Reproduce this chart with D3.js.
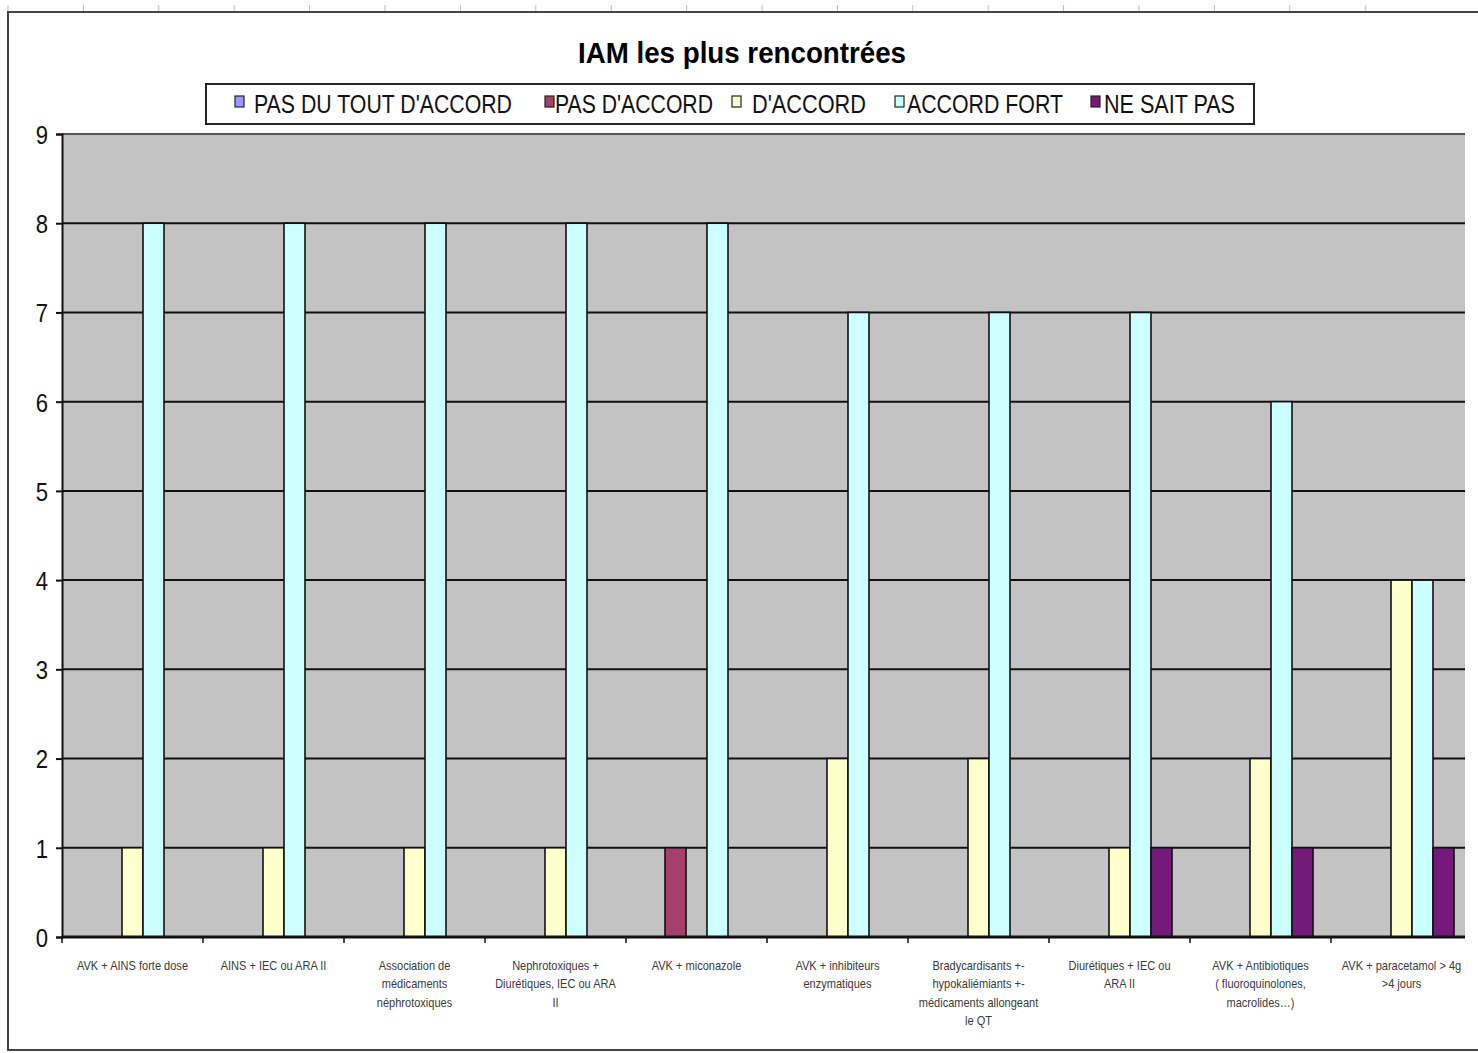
<!DOCTYPE html>
<html><head><meta charset="utf-8">
<script src="https://cdn.jsdelivr.net/npm/d3@7"></script>
<style>html,body{margin:0;padding:0;background:#fff;overflow:hidden}</style>
</head><body>
<svg id="c" width="1478" height="1053"></svg>
<script>
const title = "IAM les plus rencontrées";
const categories = [
  "AVK + AINS forte dose",
  "AINS + IEC ou ARA II",
  "Association de\nmédicaments\nnéphrotoxiques",
  "Nephrotoxiques +\nDiurétiques, IEC ou ARA\nII",
  "AVK + miconazole",
  "AVK + inhibiteurs\nenzymatiques",
  "Bradycardisants +-\nhypokaliémiants +-\nmédicaments allongeant\nle QT",
  "Diurétiques + IEC ou\nARA II",
  "AVK + Antibiotiques\n( fluoroquinolones,\nmacrolides…)",
  "AVK + paracetamol > 4g\n>4 jours"
];
const seriesNames = ["PAS DU TOUT D'ACCORD", "PAS D'ACCORD", "D'ACCORD", "ACCORD FORT", "NE SAIT PAS"];
const pasDuToutDaccord = [0,0,0,0,0,0,0,0,0,0];
const pasDaccord       = [0,0,0,0,1,0,0,0,0,0];
const daccord          = [1,1,1,1,0,2,2,1,2,4];
const accordFort       = [8,8,8,8,8,7,7,7,6,4];
const neSaitPas        = [0,0,0,0,0,0,0,1,1,1];
const yTicks = [0,1,2,3,4,5,6,7,8,9];
const seriesValues = [pasDuToutDaccord, pasDaccord, daccord, accordFort, neSaitPas];
const colors = ["#9999ff", "#a3406e", "#ffffcc", "#ccffff", "#731a7a"];

const svg = d3.select("#c");
const font = "'Liberation Sans', Arial, sans-serif";
const L = 62, T = 134, B = 937, R = 1472;

// outer frame
svg.append("rect").attr("x", 8).attr("y", 12).attr("width", 1490).attr("height", 1038)
  .attr("fill", "#fff").attr("stroke", "#444").attr("stroke-width", 2);
// faint marks above frame
svg.append("g").selectAll("line").data(d3.range(0, 19)).join("line")
  .attr("x1", d => 8 + d * 75.4).attr("x2", d => 8 + d * 75.4)
  .attr("y1", 5).attr("y2", 11).attr("stroke", "#bbb").attr("stroke-width", 1);

const x0 = d3.scaleBand().domain(d3.range(categories.length)).range([L, R]).paddingInner(0).paddingOuter(0);
const x1 = d3.scaleBand().domain(d3.range(seriesNames.length)).range([0, 105]);
const y = d3.scaleLinear().domain([0, 9]).range([B, T]);

const clip = svg.append("defs").append("clipPath").attr("id", "pc");
clip.append("rect").attr("x", 0).attr("y", 0).attr("width", 1465).attr("height", 1053);

const plot = svg.append("g").attr("clip-path", "url(#pc)");
plot.append("rect").attr("x", L).attr("y", T).attr("width", R - L).attr("height", B - T).attr("fill", "#c3c3c3");

// gridlines
plot.append("g").selectAll("line").data(yTicks.filter(d => d > 0)).join("line")
  .attr("x1", L).attr("x2", R).attr("y1", d => y(d)).attr("y2", d => y(d))
  .attr("stroke", d => d === 9 ? "#555" : "#111").attr("stroke-width", 2);

// bars
const groupW = 105;
const groups = plot.append("g").selectAll("g").data(categories).join("g")
  .attr("transform", (d, i) => `translate(${x0(i) + (x0.bandwidth() - groupW) / 2},0)`);
groups.selectAll("rect").data((d, i) => seriesValues.map((s, k) => ({k, v: s[i]})).filter(o => o.v > 0)).join("rect")
  .attr("x", o => x1(o.k)).attr("width", x1.bandwidth())
  .attr("y", o => y(o.v)).attr("height", o => y(0) - y(o.v))
  .attr("fill", o => colors[o.k]).attr("stroke", "#111").attr("stroke-width", 1.6);

// axes
const yAxis = d3.axisLeft(y).tickValues(yTicks).tickSize(6).tickPadding(10).tickFormat(d3.format("d"));
const ya = svg.append("g").attr("transform", `translate(${L},0)`).call(yAxis);
ya.select(".domain").attr("stroke", "#111").attr("stroke-width", 2);
ya.selectAll(".tick line").attr("stroke", "#111").attr("stroke-width", 2);
ya.selectAll(".tick text").attr("font-family", font).attr("font-size", 26).attr("fill", "#111")
  .attr("transform", "scale(0.85,1)").attr("x", -14 / 0.85).attr("dy", "0.36em");

const xb = plot.append("g").attr("transform", `translate(0,${B})`);
xb.append("line").attr("x1", L).attr("x2", R).attr("stroke", "#111").attr("stroke-width", 3);
xb.selectAll("line.t").data(d3.range(categories.length + 1)).join("line").attr("class", "t")
  .attr("x1", i => L + i * x0.bandwidth()).attr("x2", i => L + i * x0.bandwidth())
  .attr("y1", 0).attr("y2", 6).attr("stroke", "#111").attr("stroke-width", 1.5);

// x labels
const xl = plot.append("g");
categories.forEach((c, i) => {
  const cx = x0(i) + x0.bandwidth() / 2;
  const t = xl.append("text").attr("font-family", font).attr("font-size", 12).attr("fill", "#3a3a3a")
    .attr("text-anchor", "middle").attr("transform", `translate(${cx},0) scale(0.92,1)`);
  c.split("\n").forEach((line, j) => {
    t.append("tspan").attr("x", 0).attr("y", 970 + j * 18.5).text(line);
  });
});

// title
svg.append("text").attr("x", 742).attr("y", 63).attr("text-anchor", "middle")
  .attr("font-family", font).attr("font-weight", "bold").attr("font-size", 30).attr("fill", "#000")
  .attr("textLength", 328).attr("lengthAdjust", "spacingAndGlyphs").text(title);

// legend
svg.append("rect").attr("x", 206).attr("y", 84).attr("width", 1048).attr("height", 40)
  .attr("fill", "#fff").attr("stroke", "#222").attr("stroke-width", 2);
const legItems = [
  {sx: 235, tx: 254, w: 258},
  {sx: 545, tx: 555, w: 158},
  {sx: 732, tx: 752, w: 114},
  {sx: 895, tx: 907, w: 156},
  {sx: 1091, tx: 1104, w: 131}
];
const lg = svg.append("g").selectAll("g").data(seriesNames).join("g");
lg.append("rect").attr("x", (d, i) => legItems[i].sx).attr("y", 96).attr("width", 9).attr("height", 11)
  .attr("fill", (d, i) => colors[i]).attr("stroke", "#222").attr("stroke-width", 1.2);
lg.append("text").attr("x", (d, i) => legItems[i].tx).attr("y", 113)
  .attr("font-family", font).attr("font-size", 26).attr("fill", "#111")
  .attr("textLength", (d, i) => legItems[i].w).attr("lengthAdjust", "spacingAndGlyphs").text(d => d);
</script>
</body></html>
